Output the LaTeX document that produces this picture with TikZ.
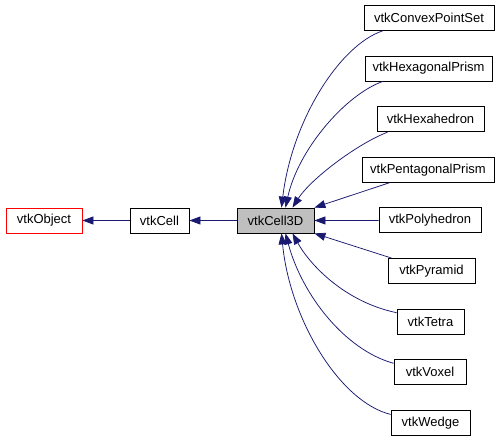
\documentclass[tikz,border=0pt]{standalone}
\usepackage{fontspec}
\setmainfont{Liberation Sans}
\usetikzlibrary{arrows.meta}
\definecolor{edgeblue}{HTML}{191970}
\definecolor{thisgray}{HTML}{BFBFBF}

\begin{document}
\begin{tikzpicture}[
    x=1pt, y=-1pt,
    every node/.style={font=\fontsize{13}{15}\selectfont},
    classbox/.style={rectangle, draw=black, line width=0.8pt, fill=white, minimum height=25pt, inner sep=0pt},
    rootbox/.style={classbox, draw=red},
    thisbox/.style={classbox, fill=thisgray},
    inherit/.style={-{Triangle[length=11pt, width=8pt]}, draw=edgeblue, line width=0.75pt}
]
    \useasboundingbox (0,0) rectangle (504,443);

    % Base classes
    \node[rootbox, minimum width=76pt] (object) at (44,220.5) {vtkObject};
    \node[classbox, minimum width=59pt] (cell) at (159.5,220.5) {vtkCell};
    \node[thisbox, minimum width=77pt] (cell3d) at (275.5,220.5) {vtkCell3D};

    % Derived classes
    \foreach \nm/\w/\cx [count=\i from 0] in {ConvexPointSet/130/429, HexagonalPrism/127/428.5,
        Hexahedron/107/430.5, PentagonalPrism/132/428, Polyhedron/102/430, Pyramid/87/431.5,
        Tetra/67/430.5, Voxel/72/430, Wedge/79/430.5} {
        \node[classbox, minimum width=\w pt] (\nm) at (\cx, 18+\i*50.6) {vtk\nm};
    }

    % Inheritance chain
    \draw[inherit] (cell) -- (object);
    \draw[inherit] (cell3d) -- (cell);

    % Arrows into vtkCell3D
    \draw[inherit] ([xshift=19pt]ConvexPointSet.south west) .. controls (340,45) and (292,120) .. ([xshift=6pt]cell3d.north);
    \draw[inherit] ([xshift=18pt]HexagonalPrism.south west) .. controls (345,95) and (298,150) .. ([xshift=10pt]cell3d.north);
    \draw[inherit] ([xshift=11pt]Hexahedron.south west) .. controls (355,145) and (310,180) .. ([xshift=17pt]cell3d.north);
    \draw[inherit] ([xshift=28pt]PentagonalPrism.south west) -- (cell3d.north east);
    \draw[inherit] (Polyhedron.west) -- (cell3d.east);
    \draw[inherit] ([xshift=4pt]Pyramid.north west) -- (cell3d.south east);
    \draw[inherit] ([yshift=-4pt]Tetra.north west) .. controls (345,302) and (310,265) .. ([xshift=17pt]cell3d.south);
    \draw[inherit] ([yshift=-4pt]Voxel.north west) .. controls (345,350) and (302,295) .. ([xshift=10pt]cell3d.south);
    \draw[inherit] ([yshift=-4.5pt]Wedge.north west) .. controls (340,402) and (290,320) .. ([xshift=6pt]cell3d.south);
\end{tikzpicture}
\end{document}
